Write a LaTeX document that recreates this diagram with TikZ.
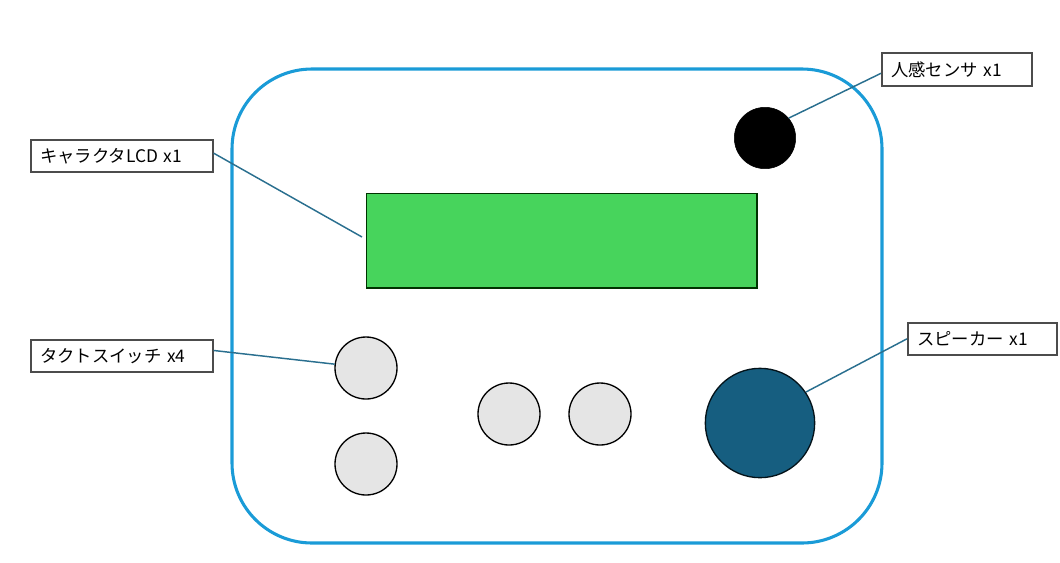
\documentclass[tikz,border=0pt]{standalone}
\usepackage{fontspec}
\setmainfont{Noto Sans CJK JP}
\begin{document}
\begin{tikzpicture}[x=0.75pt,y=-0.75pt,
  lbl/.style={draw=black!70,line width=1.2pt,fill=white,rectangle,anchor=north west,inner sep=0pt,
    font=\fontsize{13pt}{14pt}\selectfont,align=left},
  btn/.style={circle,draw=black,line width=1pt,fill=black!10,minimum size=46.5pt,inner sep=0pt},
  lead/.style={draw=leadc,line width=1.1pt}]
\definecolor{frame}{HTML}{1A9BD7}
\definecolor{lcdg}{HTML}{47D45C}
\definecolor{spkc}{HTML}{165E80}
\definecolor{leadc}{HTML}{2A6F8F}
\useasboundingbox (0,0) rectangle (1060,562);
% enclosure
\draw[frame,line width=2.3pt,rounded corners=60pt] (232,69) rectangle (882,543);
% LCD
\node[draw=black!80!green,line width=1pt,fill=lcdg,rectangle,minimum width=293pt,minimum height=71pt,inner sep=0pt] (lcd) at (561.5,240.5) {};
% sensor
\node[circle,fill=black,draw=black,minimum size=46pt,inner sep=0pt] (sensor) at (765,138) {};
% buttons
\node[btn] (sw1) at (366,368) {};
\node[btn] (sw2) at (366,464) {};
\node[btn] (sw3) at (509,414) {};
\node[btn] (sw4) at (600,414) {};
% speaker
\node[circle,draw=black!80!spkc,line width=1pt,fill=spkc,minimum size=82pt,inner sep=0pt] (spk) at (760,423) {};
% labels
\node[lbl,minimum width=112.5pt,minimum height=24.75pt,text width=106.5pt] (lsen) at (881,52) {\hspace{4pt}人感センサ x1};
\node[lbl,minimum width=136.5pt,minimum height=24pt,text width=130.5pt] (llcd) at (30,139) {\hspace{4pt}キャラクタLCD x1};
\node[lbl,minimum width=136.5pt,minimum height=24pt,text width=130.5pt] (lsw) at (30,339) {\hspace{4pt}タクトスイッチ x4};
\node[lbl,minimum width=111.75pt,minimum height=24pt,text width=105.75pt] (lspk) at (907,322) {\hspace{4pt}スピーカー x1};
% leaders
\coordinate (lcdend) at (362,237);
\draw[lead] ([yshift=-3pt]lsen.west) -- (sensor.40);
\draw[lead] ([yshift=2pt]llcd.east) -- (lcdend);
\draw[lead] ([yshift=4pt]lsw.east) -- (sw1.173);
\draw[lead] (lspk.west) -- (spk.34);
\end{tikzpicture}
\end{document}
